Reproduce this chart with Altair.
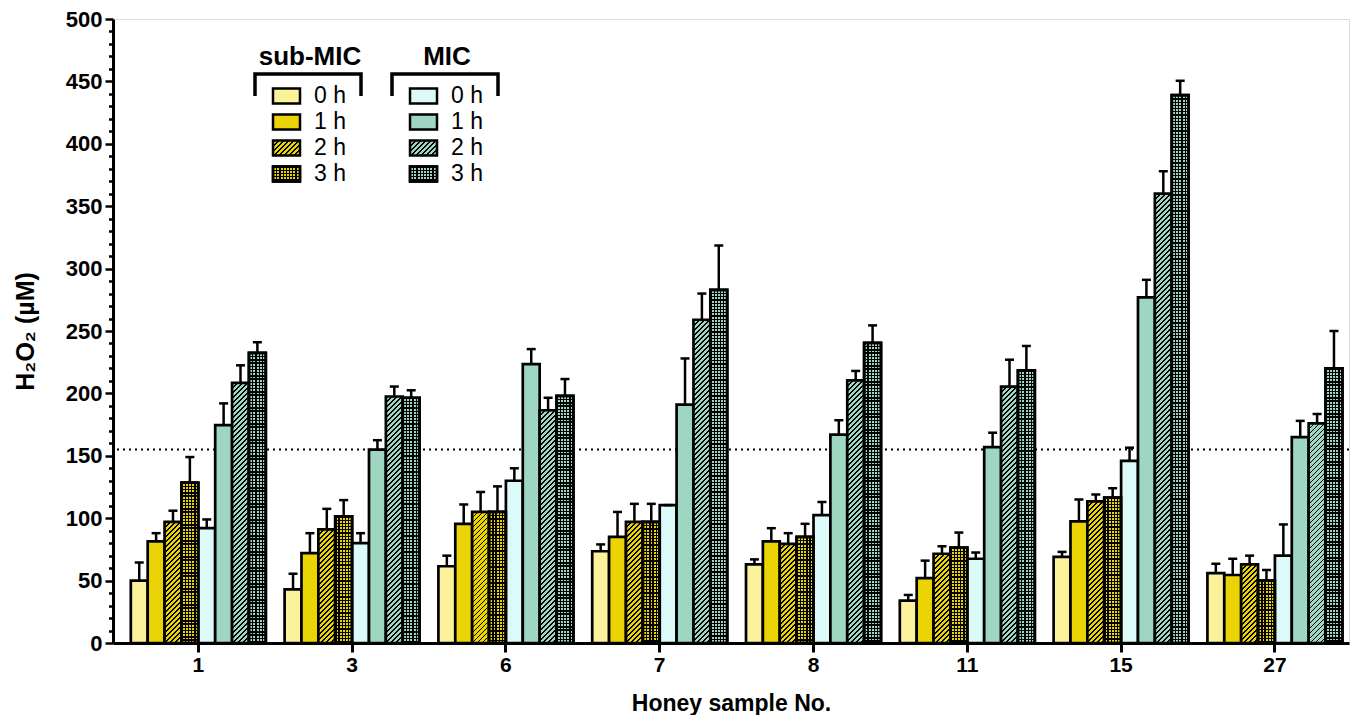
import math
import altair as alt

# ---------------- data ----------------
samples = ["1", "3", "6", "7", "8", "11", "15", "27"]
series = ["sub-MIC 0 h", "sub-MIC 1 h", "sub-MIC 2 h", "sub-MIC 3 h",
          "MIC 0 h", "MIC 1 h", "MIC 2 h", "MIC 3 h"]
legend_groups = ["sub-MIC", "MIC"]
legend_labels = ["0 h", "1 h", "2 h", "3 h"]

sub0_mean = [50, 43, 61.5, 73.5, 63, 34, 69, 56]
sub0_err = [14.5, 12.5, 8.5, 5.5, 4, 4.5, 4, 7.5]
sub1_mean = [81.5, 72, 95.5, 85, 81.5, 52, 97.5, 54.5]
sub1_err = [6.5, 16, 15.5, 20, 10.5, 14, 17.5, 13]
sub2_mean = [97, 91, 105, 97, 79.5, 71.5, 113.5, 63]
sub2_err = [9, 16.5, 16, 14.5, 8.5, 6, 5.5, 7]
sub3_mean = [128.5, 101.5, 105, 97, 85, 76.5, 116.5, 50]
sub3_err = [20.5, 13, 20.5, 14.5, 10.5, 12, 7.5, 8.5]
mic0_mean = [92, 80, 130, 110.5, 102.5, 67.5, 146, 70]
mic0_err = [7, 8, 10, 0, 10.5, 5, 10.5, 25]
mic1_mean = [174.5, 155, 223.5, 191, 167, 157, 277, 165]
mic1_err = [17.5, 7.5, 12, 37, 11.5, 11.5, 14, 13]
mic2_mean = [208.5, 197.5, 186.5, 259, 210.5, 205.5, 360, 176]
mic2_err = [14, 8, 10, 21, 7.5, 21.5, 18, 7.5]
mic3_mean = [232.5, 196.5, 198, 283, 240.5, 218.5, 439, 220]
mic3_err = [8.5, 6, 13.5, 35.5, 14, 19.5, 11.5, 30]

mic_threshold = 155

means = [sub0_mean, sub1_mean, sub2_mean, sub3_mean, mic0_mean, mic1_mean, mic2_mean, mic3_mean]
errs = [sub0_err, sub1_err, sub2_err, sub3_err, mic0_err, mic1_err, mic2_err, mic3_err]

# ---------------- style ----------------
FONT = "Liberation Sans"
W, H = 1236, 624
YMAX = 500
P_IN, P_OUT, ALIGN = 0.1222, 0.0793, 0.73
PALE_Y, YEL = "#FCF29B", "#EBD406"
PALE_C, MINT = "#DCFAF9", "#9ED6C1"
colors = [PALE_Y, YEL, YEL, YEL, PALE_C, MINT, MINT, MINT]
kinds = ["solid", "solid", "hatch", "check", "solid", "solid", "hatch", "check"]

step = W / (len(samples) - P_IN + 2 * P_OUT)
bar_w = step * (1 - P_IN) / len(series)


def _stripe_stops(n, frac, ink, color):
    stops = []
    i = 0
    while i < n:
        a = round(i / n, 5)
        b = round(min((i + frac) / n, 1.0), 5)
        c = round(min((i + 1) / n, 1.0), 5)
        stops += [{"offset": a, "color": ink}, {"offset": b, "color": ink},
                  {"offset": b, "color": color}, {"offset": c, "color": color}]
        i += 1
    return stops


def hatch(color, w, h, period=5.0, frac=0.36):
    # "/" stripes at 45 degrees in screen space, using bbox-relative gradient
    h = max(h, 0.5)
    s = (w + h) / (w * w + h * h)
    n = (w + h) / period
    return {"gradient": "linear", "x1": 0, "y1": 0, "x2": w * s, "y2": h * s,
            "stops": _stripe_stops(n, frac, "#000000", color)}


def hstripes(color, h, period=3.2, frac=0.4):
    h = max(h, 0.5)
    n = h / period
    return {"gradient": "linear", "x1": 0, "y1": 0, "x2": 0, "y2": 1,
            "stops": _stripe_stops(n, frac, "#000000", color)}


def vstripes(w, period=3.2, frac=0.4):
    n = w / period
    return {"gradient": "linear", "x1": 0, "y1": 0, "x2": 1, "y2": 0,
            "stops": _stripe_stops(n, frac, "#000000", "rgba(0,0,0,0)")}


def make_fill(kind, color, w, h):
    if kind == "hatch":
        return hatch(color, w, h)
    if kind == "check":
        return hstripes(color, h)
    return color


rows = []
for j, name in enumerate(series):
    for i, smp in enumerate(samples):
        m = means[j][i]
        e = errs[j][i]
        h = m / YMAX * H
        rows.append({"sample": smp, "series": name, "mean": m, "top": m + e,
                     "fill": make_fill(kinds[j], colors[j], bar_w, h),
                     "check": kinds[j] == "check"})

# legend entries
LBW, LBH = 27.0, 14.85
leg_rows = []
for g, grp in enumerate(legend_groups):
    for k, lab in enumerate(legend_labels):
        j = g * 4 + k
        leg_rows.append({"grp": grp, "lab": lab,
                         "fill": make_fill(kinds[j], colors[j], LBW, LBH),
                         "check": kinds[j] == "check"})
leg_titles = [{"grp": g} for g in legend_groups]

# ---------------- main chart ----------------
data = alt.Data(values=rows)
xenc = alt.X("sample:N", sort=samples,
             scale=alt.Scale(paddingInner=P_IN, paddingOuter=P_OUT, align=ALIGN),
             axis=alt.Axis(title="Honey sample No.", labelAngle=0, tickSize=9, tickWidth=3,
                           tickColor="black", domainColor="black", domainWidth=3,
                           labelFontSize=21, labelFontWeight="bold", labelColor="black",
                           labelPadding=2, titleFontSize=23, titleFontWeight="bold",
                           titleColor="black", titlePadding=17, labelFont=FONT, titleFont=FONT))
xoff = alt.XOffset("series:N", sort=series, scale=alt.Scale(paddingInner=0, paddingOuter=0))
yscale = alt.Scale(domain=[0, YMAX], nice=False)
yaxis = alt.Axis(title="H₂O₂ (µM)", values=list(range(0, YMAX + 1, 10)),
                 tickSize={"condition": {"test": "datum.value % 50 === 0", "value": 8}, "value": 4.5},
                 tickWidth=2.5, tickColor="black", domainColor="black", domainWidth=3,
                 labelExpr="datum.value % 50 === 0 ? datum.label : ''", labelOverlap=False,
                 labelFontSize=22, labelFontWeight="bold", labelColor="black", labelPadding=3,
                 titleFontSize=25, titleFontWeight="bold", titleColor="black", titlePadding=27,
                 labelFont=FONT, titleFont=FONT, grid=False)

threshold = alt.Chart(alt.Data(values=[{"thr": mic_threshold}])).mark_rule(
    color="black", strokeWidth=2, strokeDash=[2, 4]
).encode(y=alt.Y("thr:Q", scale=yscale, axis=yaxis))

base = alt.Chart(data)
bars = base.mark_bar(stroke="black", strokeWidth=2.7, opacity=1, strokeJoin="miter").encode(
    x=xenc, xOffset=xoff,
    y=alt.Y("mean:Q", stack=None, scale=yscale, axis=yaxis),
    fill=alt.Fill("fill:N", scale=None),
)
overlay = base.transform_filter("datum.check").mark_bar(
    stroke="black", strokeWidth=2.7, opacity=1, fill=vstripes(bar_w)
).encode(x=xenc, xOffset=xoff, y=alt.Y("mean:Q", stack=None, scale=yscale, axis=yaxis))
err_rule = base.mark_rule(color="black", strokeWidth=2.5, opacity=1).encode(
    x=xenc, xOffset=xoff, y=alt.Y("mean:Q", scale=yscale, axis=yaxis), y2="top:Q")
err_cap = base.mark_tick(color="black", size=9, thickness=2.5, opacity=1).encode(
    x=xenc, xOffset=xoff, y=alt.Y("top:Q", scale=yscale, axis=yaxis))

main = alt.layer(threshold, bars, overlay, err_rule, err_cap)

# ---------------- legend ----------------
lx = alt.X("grp:N", scale=alt.Scale(type="point", domain=legend_groups, range=[173.5, 310.5], padding=0), axis=None)
ly = alt.Y("lab:N", scale=alt.Scale(type="point", domain=legend_labels, range=[77, 155], padding=0), axis=None)
box_shape = "M-1,-0.55L1,-0.55L1,0.55L-1,0.55Z"
lbase = alt.Chart(alt.Data(values=leg_rows))
leg_box = lbase.mark_point(shape=box_shape, size=LBW * LBW, filled=True, opacity=1,
                           stroke="black", strokeWidth=2.5).encode(
    x=lx, y=ly, fill=alt.Fill("fill:N", scale=None))
leg_over = lbase.transform_filter("datum.check").mark_point(
    shape=box_shape, size=LBW * LBW, filled=True, opacity=1, stroke="black", strokeWidth=2.5,
    fill=vstripes(LBW)).encode(x=lx, y=ly)
leg_text = lbase.mark_text(align="left", baseline="middle", dx=27.5, fontSize=23,
                           font=FONT, color="black").encode(x=lx, y=ly, text="lab:N")
tbase = alt.Chart(alt.Data(values=leg_titles))
leg_title = tbase.mark_text(align="center", baseline="middle", dx=23.5, fontSize=26,
                            fontWeight="bold", font=FONT, color="black").encode(
    x=lx, y=alt.value(38), text="grp:N")
bracket = tbase.mark_point(shape="M-1,0.415L-1,0L1,0L1,0.415", size=106 * 106, filled=False,
                           opacity=1, stroke="black", strokeWidth=3.5, xOffset=21.5).encode(
    x=lx, y=alt.value(55))
legend = alt.layer(leg_box, leg_over, leg_text, leg_title, bracket)

chart = alt.layer(main, legend).resolve_scale(x="independent", y="independent").properties(
    width=W, height=H, padding={"left": 5, "top": 0, "right": 0, "bottom": 0}
).configure_view(stroke=None).configure(font=FONT)

chart.save("out.html", embed_options={"renderer": "svg", "actions": False})
